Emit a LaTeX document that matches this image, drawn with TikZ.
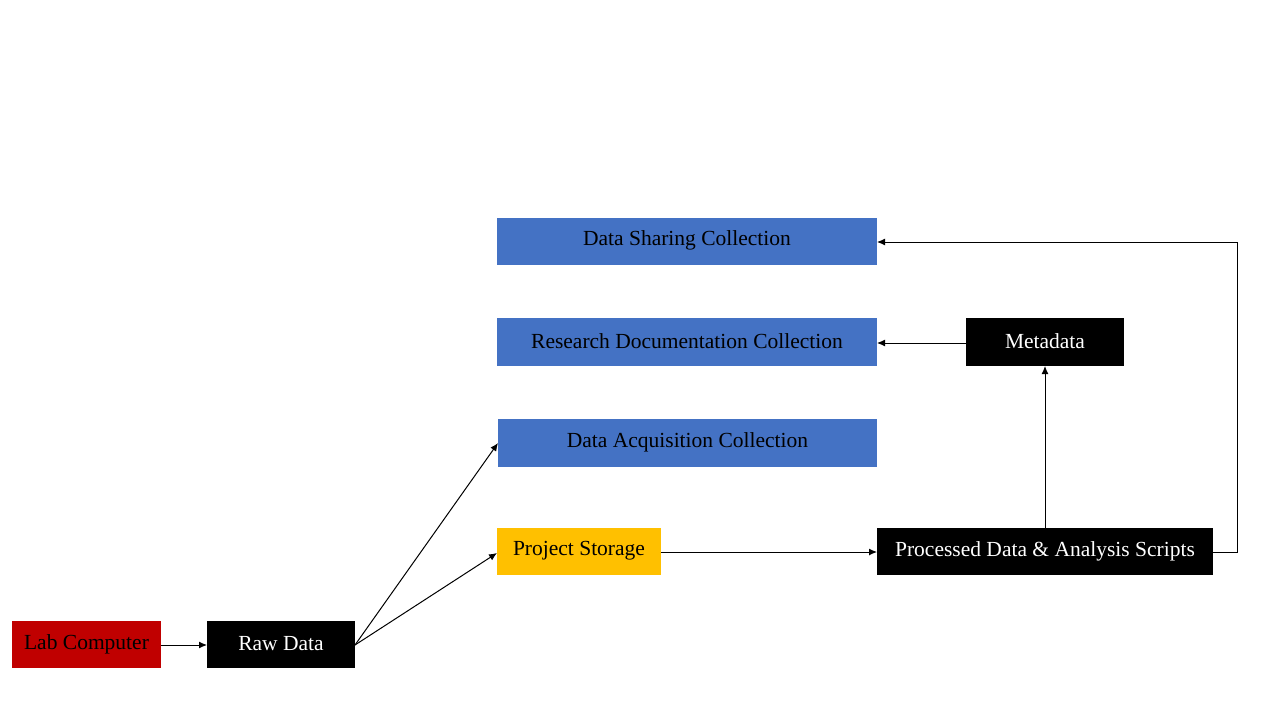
\documentclass[tikz,border=0pt]{standalone}
\usepackage{fontspec}
\setmainfont{Liberation Serif}
\usetikzlibrary{arrows.meta}
\definecolor{cred}{HTML}{C00000}
\definecolor{cblue}{HTML}{4472C4}
\definecolor{cgold}{HTML}{FFC000}
\begin{document}
\begin{tikzpicture}[x=1pt,y=-1pt,
  box/.style={draw=none,inner sep=0pt,font=\fontsize{21.5}{24}\selectfont},
  arr/.style={-{Latex[length=8pt,width=7pt]},line width=1pt,black}]
\useasboundingbox (0,0) rectangle (1280,720);
\fill[white] (0,0) rectangle (1280,720);
% boxes
\fill[cred] (12,621) rectangle (161,668);
\node[box,text=black] (lab) at (86.5,644.5) {Lab Computer};
\coordinate (labE) at (161,645);
\fill[black] (207,621) rectangle (355,668);
\node[box,text=white] (raw) at (281,644) {Raw Data};
\coordinate (rawW) at (207,645);
\coordinate (rawE) at (355,645);
\fill[cgold] (497,528) rectangle (661,575);
\node[box,text=black] (ps) at (579,551) {Project Storage};
\coordinate (psW) at (497,553);
\coordinate (psE) at (661,552);
\fill[cblue] (498,419) rectangle (877,467);
\node[box,text=black] (dac) at (687.5,442) {Data Acquisition Collection};
\coordinate (dacW) at (498,443);
\fill[cblue] (497,318) rectangle (877,366);
\node[box,text=black] (rdc) at (687,341) {Research Documentation Collection};
\coordinate (rdcE) at (877,343);
\fill[cblue] (497,218) rectangle (877,265);
\node[box,text=black] (dsc) at (687,240) {Data Sharing Collection};
\coordinate (dscE) at (877,242);
\fill[black] (966,318) rectangle (1124,366);
\node[box,text=white] (meta) at (1045,341) {Metadata};
\coordinate (metaW) at (966,343);
\coordinate (metaS) at (1045,366);
\fill[black] (877,528) rectangle (1213,575);
\node[box,text=white] (proc) at (1045,551) {Processed Data \& Analysis Scripts};
\coordinate (procW) at (877,552);
\coordinate (procE) at (1213,552);
\coordinate (procN) at (1045,528);
\coordinate (corner1) at (1237,552);
\coordinate (corner2) at (1237,242);
% connectors
\draw[arr] (labE) -- (rawW);
\draw[arr] (rawE) -- (dacW);
\draw[arr] (rawE) -- (psW);
\draw[arr] (psE) -- (procW);
\draw[arr] (procN) -- (metaS);
\draw[arr] (metaW) -- (rdcE);
\draw[arr] (procE) -- (corner1) -- (corner2) -- (dscE);
\end{tikzpicture}
\end{document}
